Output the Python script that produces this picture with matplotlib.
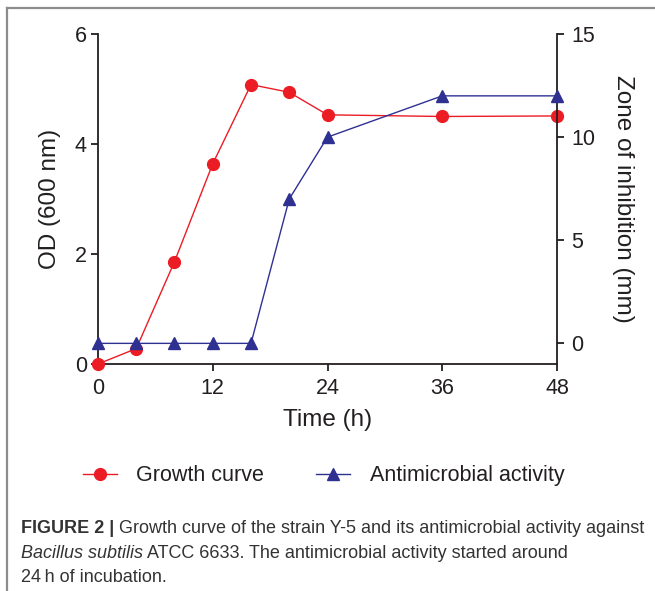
import matplotlib
matplotlib.use("Agg")
import matplotlib.pyplot as plt
from matplotlib.lines import Line2D

plt.rcParams['font.family'] = ['Liberation Sans', 'DejaVu Sans']

# data
time_h = [0, 4, 8, 12, 16, 20, 24, 36, 48]
od600 = [0.0, 0.28, 1.86, 3.64, 5.08, 4.94, 4.53, 4.50, 4.51]
zone_mm = [0, 0, 0, 0, 0, 7, 10, 12, 12]

x_ticks = [0, 12, 24, 36, 48]
od_ticks = [0, 2, 4, 6]
zone_ticks = [0, 5, 10, 15]

RED = '#ec1c24'
BLUE = '#2e3192'
INK = '#231f20'

fig = plt.figure(figsize=(6.55, 5.91), dpi=100)
ax = fig.add_axes([0.1496, 0.3841, 0.7008, 0.5584])
ax2 = ax.twinx()

ax.plot(time_h, od600, color=RED, lw=1.0, marker='o', ms=8.5, clip_on=False, zorder=3)
ax2.plot(time_h, zone_mm, color=BLUE, lw=1.0, marker='^', ms=8.5, clip_on=False, zorder=3)

ax.set_xlim(0, 48)
ax.set_ylim(0, 6)
ax2.set_ylim(-1, 15)
ax.set_xticks(x_ticks)
ax.set_yticks(od_ticks)
ax2.set_yticks(zone_ticks)

for a in (ax, ax2):
    a.patch.set_visible(False)
    for s in a.spines.values():
        s.set_linewidth(1.3)
        s.set_color(INK)
    a.spines['top'].set_visible(False)
    a.tick_params(direction='out', length=5, width=1.3, colors=INK,
                  labelsize=15.5, pad=3)
ax.tick_params(axis='x', pad=5)
ax2.tick_params(axis='y', pad=5)
ax.spines['right'].set_visible(False)
ax2.spines['left'].set_visible(False)
ax2.spines['bottom'].set_visible(False)
ax2.spines['right'].set_bounds(-1, 15)

ax.set_xlabel('Time (h)', fontsize=17.5, color=INK, labelpad=7)
ax.set_ylabel('OD (600 nm)', fontsize=17.5, color=INK, labelpad=10)
ax2.set_ylabel('Zone of inhibition (mm)', fontsize=17.5, color=INK,
               rotation=270, labelpad=28)

handles = [
    Line2D([], [], color=RED, lw=1.0, marker='o', ms=8.5),
    Line2D([], [], color=BLUE, lw=1.0, marker='^', ms=8.5),
]
fig.legend(handles, ['Growth curve', 'Antimicrobial activity'], loc='center',
           bbox_to_anchor=(0.494, 0.195), ncol=2, frameon=False,
           fontsize=15.5, handlelength=1.6, handletextpad=0.9,
           columnspacing=2.4, labelcolor=INK)

# panel frame (top and left edges only)
fig.add_artist(Line2D([0.0107, 0.0107], [0, 0.9865], transform=fig.transFigure,
                      color='#8c8c8c', lw=1.6))
fig.add_artist(Line2D([0.0107, 1.0], [0.9865, 0.9865], transform=fig.transFigure,
                      color='#8c8c8c', lw=1.6))

# caption, written piece by piece so bold / italic parts line up
renderer = fig.canvas.get_renderer()
cap_size = 13.0
cap_color = '#333333'


def put_line(parts, x0, y0):
    x = x0
    for txt, weight, style in parts:
        t = fig.text(x, y0, txt, fontsize=cap_size, color=cap_color,
                     fontweight=weight, fontstyle=style, va='baseline',
                     ha='left', transform=None)
        bb = t.get_window_extent(renderer=renderer)
        x = bb.x1


x0 = 21
put_line([('FIGURE 2 | ', 'bold', 'normal'),
          ('Growth curve of the strain Y-5 and its antimicrobial activity against',
           'normal', 'normal')], x0, 591 - 533)
put_line([('Bacillus subtilis', 'normal', 'italic'),
          (' ATCC 6633. The antimicrobial activity started around',
           'normal', 'normal')], x0, 591 - 558)
put_line([('24\u2009h of incubation.', 'normal', 'normal')], x0, 591 - 582)

fig.savefig('out.png', dpi=100)
